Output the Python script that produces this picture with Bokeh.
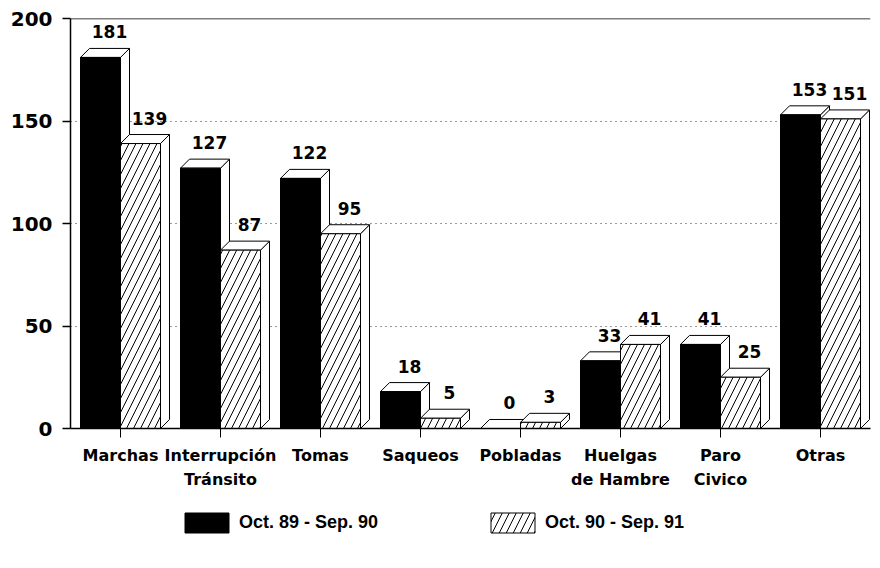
from bokeh.plotting import figure
from bokeh.models import FixedTicker, Span, Legend, LegendItem, ColumnDataSource
from bokeh.layouts import column
from bokeh.embed import file_html
from bokeh.resources import INLINE
from bokeh.core.properties import value

# ---------------- data ----------------
categories = ["Marchas", "Interrupción\nTránsito", "Tomas", "Saqueos", "Pobladas",
              "Huelgas\nde Hambre", "Paro\nCivico", "Otras"]
series_names = ["Oct. 89 - Sep. 90", "Oct. 90 - Sep. 91"]
values_89_90 = [181, 127, 122, 18, 0, 33, 41, 153]
values_90_91 = [139, 87, 95, 5, 3, 41, 25, 151]
y_ticks = [0, 50, 100, 150, 200]

# ---------------- style constants ----------------
DX = 0.09     # 3D depth offset in x units (~9px)
DY = 4.4      # 3D depth offset in y units (~9px)
BAR_W = 0.4
NUM_FONT = "DejaVu Sans"
HATCH = dict(hatch_pattern="/", hatch_color="black", hatch_scale=14, hatch_weight=1)

p = figure(width=872, height=498, x_range=(0, len(categories)), y_range=(0, 200),
           output_backend="svg", toolbar_location=None,
           min_border_left=70, min_border_right=2, min_border_top=18, min_border_bottom=70)
p.outline_line_color = None
p.xgrid.visible = False
p.ygrid.ticker = FixedTicker(ticks=[t for t in y_ticks if 0 < t < 200])
p.ygrid.grid_line_color = "#333333"
p.ygrid.grid_line_dash = "1 4"
p.ygrid.grid_line_width = 1

# top border line at the axis maximum
p.add_layout(Span(location=y_ticks[-1], dimension="width", line_color="black", line_width=1.5))

for s, vals in enumerate([values_89_90, values_90_91]):
    x0 = [i + 0.1 + s * BAR_W for i in range(len(vals))]
    x1 = [a + BAR_W for a in x0]
    side_xs = [[b, b + DX, b + DX, b] for b in x1]
    side_ys = [[0, DY, v + DY, v] for v in vals]
    top_xs = [[a, a + DX, b + DX, b] for a, b in zip(x0, x1)]
    top_ys = [[v, v + DY, v + DY, v] for v in vals]
    p.patches(side_xs, side_ys, fill_color="white", line_color="black", line_width=1)
    p.patches(top_xs, top_ys, fill_color="white", line_color="black", line_width=1)
    src = ColumnDataSource(dict(left=x0, right=x1, top=vals, bottom=[0] * len(vals)))
    if s == 0:
        p.quad(left="left", right="right", top="top", bottom="bottom", source=src,
               fill_color="black", line_color="black", line_width=1)
    else:
        p.quad(left="left", right="right", top="top", bottom="bottom", source=src,
               fill_color="white", line_color="black", line_width=1, **HATCH)
    # value labels
    lx = [(a + b) / 2 + DX for a, b in zip(x0, x1)]
    ly = [v + DY for v in vals]
    p.text(x=lx, y=ly, text=[str(v) for v in vals], text_align="center",
           text_baseline="bottom", y_offset=-10,
           text_font=value(NUM_FONT), text_font_style="bold", text_font_size="17px",
           text_color="black")

# y axis
p.yaxis.ticker = FixedTicker(ticks=y_ticks)
p.yaxis.major_tick_out = 8
p.yaxis.major_tick_in = 0
p.yaxis.minor_tick_line_color = None
p.yaxis.axis_line_color = "black"
p.yaxis.axis_line_width = 1.5
p.yaxis.major_tick_line_width = 1.5
p.yaxis.major_label_standoff = 10
p.yaxis.major_label_text_font = NUM_FONT
p.yaxis.major_label_text_font_style = "bold"
p.yaxis.major_label_text_font_size = "20px"
p.yaxis.major_label_text_color = "black"

# x axis
xt = [i + 0.5 for i in range(len(categories))]
p.xaxis.ticker = FixedTicker(ticks=xt)
p.xaxis.major_label_overrides = {t: c for t, c in zip(xt, categories)}
p.xaxis.major_tick_out = 9
p.xaxis.major_tick_in = 0
p.xaxis.minor_tick_line_color = None
p.xaxis.axis_line_color = "black"
p.xaxis.axis_line_width = 1.5
p.xaxis.major_label_standoff = 8
p.xaxis.major_label_text_font = NUM_FONT
p.xaxis.major_label_text_font_style = "bold"
p.xaxis.major_label_text_font_size = "16px"
p.xaxis.major_label_text_color = "black"
p.xaxis.major_label_text_line_height = 1.3

# ---------------- legend strip ----------------
lg = figure(width=872, height=62, x_range=(0, 1), y_range=(0, 1),
            output_backend="svg", toolbar_location=None,
            min_border_left=0, min_border_right=0, min_border_top=0, min_border_bottom=0)
lg.axis.visible = False
lg.grid.visible = False
lg.outline_line_color = None
offscreen = dict(left=[5], right=[6], top=[5], bottom=[4])   # outside the visible range
r1 = lg.quad(left="left", right="right", top="top", bottom="bottom",
             source=ColumnDataSource(offscreen), fill_color="black", line_color="black")
r2 = lg.quad(left="left", right="right", top="top", bottom="bottom",
             source=ColumnDataSource(dict(offscreen)), fill_color="white", line_color="black", **HATCH)
legend = Legend(items=[LegendItem(label=series_names[0], renderers=[r1]),
                       LegendItem(label=series_names[1], renderers=[r2])],
                orientation="horizontal", location=(109, 25),
                glyph_width=55, glyph_height=25, label_standoff=5, spacing=96,
                label_width=150, label_height=25,
                label_text_font="Liberation Sans", label_text_font_style="bold",
                label_text_font_size="18px", label_text_color="black",
                border_line_color=None, background_fill_alpha=0, padding=0, margin=0)
lg.add_layout(legend)

open("out.html", "w").write(file_html(column(p, lg, spacing=0), INLINE))
